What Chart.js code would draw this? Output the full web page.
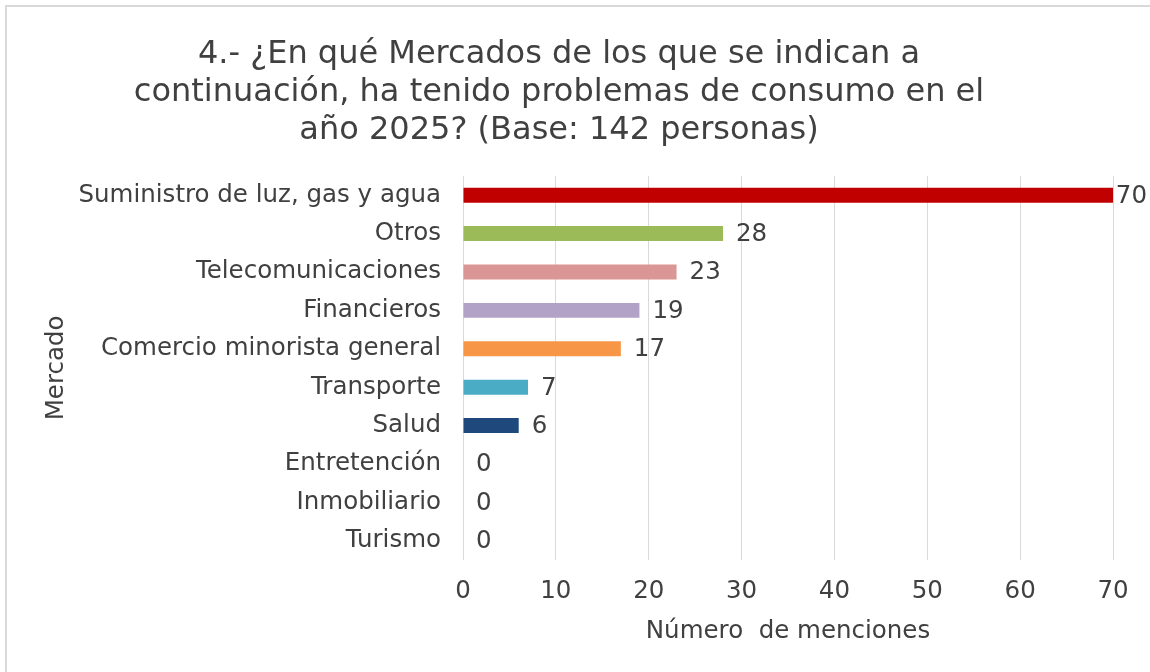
<!DOCTYPE html>
<html>
<head>
<meta charset="utf-8">
<script src="https://cdn.jsdelivr.net/npm/chart.js@4"></script>
<style>
html,body{margin:0;padding:0;background:#fff;}
#wrap{width:1150px;height:672px;position:relative;}
</style>
</head>
<body>
<div id="wrap"><canvas id="c" width="1150" height="672"></canvas></div>
<script>
const categories = ["Suministro de luz, gas y agua","Otros","Telecomunicaciones","Financieros","Comercio minorista general","Transporte","Salud","Entretención","Inmobiliario","Turismo"];
const values = [70, 28, 23, 19, 17, 7, 6, 0, 0, 0];
const barColors = ["#C00000","#9BBB59","#D99694","#B3A2C7","#F79646","#4BACC6","#1F497D","#7F7F7F","#7F7F7F","#7F7F7F"];
const xTicks = [0,10,20,30,40,50,60,70];
const titleLines = ["4.- ¿En qué Mercados de los que se indican a","continuación, ha tenido problemas de consumo en el","año 2025? (Base: 142 personas)"];
const xTitle = "Número  de menciones";
const yTitle = "Mercado";

const FONT = "'DejaVu Sans', Verdana, sans-serif";
const TXT = "#404040";
const FS = 24.5;

const framePlugin = {
  id: 'frame',
  beforeDraw(chart){
    const ctx = chart.ctx;
    ctx.save();
    ctx.fillStyle = '#fff';
    ctx.fillRect(0,0,chart.width,chart.height);
    ctx.strokeStyle = '#d9d9d9';
    ctx.lineWidth = 2;
    ctx.strokeRect(6,6,chart.width+20,chart.height+20);
    // chart title
    ctx.font = "32px " + FONT;
    ctx.fillStyle = TXT;
    ctx.textAlign = 'center';
    ctx.textBaseline = 'middle';
    const ys = [55, 93, 131];
    titleLines.forEach((t, i) => ctx.fillText(t, 559, ys[i]));
    ctx.restore();
  }
};

const labelPlugin = {
  id: 'vlabels',
  afterDatasetsDraw(chart){
    const ctx = chart.ctx;
    const meta = chart.getDatasetMeta(0);
    ctx.save();
    ctx.font = FS + "px " + FONT;
    ctx.fillStyle = TXT;
    ctx.textBaseline = 'middle';
    ctx.textAlign = 'left';
    meta.data.forEach((bar, i) => {
      const txt = String(values[i]);
      const w = ctx.measureText(txt).width;
      let x = bar.x + 13;
      if (x + w > chart.width - 3) x = chart.width - 3 - w;
      ctx.fillText(txt, x, bar.y + 1);
    });
    ctx.restore();
  }
};

new Chart(document.getElementById('c'), {
  type: 'bar',
  data: {
    labels: categories,
    datasets: [{
      data: values,
      backgroundColor: barColors,
      borderWidth: 0,
      barPercentage: 0.78,
      categoryPercentage: 0.5
    }]
  },
  options: {
    indexAxis: 'y',
    responsive: false,
    animation: false,
    devicePixelRatio: 1,
    layout: { padding: { left: 40, right: 37, top: 176, bottom: 25.3 } },
    plugins: {
      legend: { display: false },
      tooltip: { enabled: false },
      title: { display: false }
    },
    scales: {
      x: {
        min: 0, max: 70,
        afterBuildTicks: s => { s.ticks = xTicks.map(v => ({ value: v })); },
        grid: { color: '#d9d9d9', drawTicks: false, lineWidth: 1 },
        border: { display: false },
        ticks: { color: TXT, font: { family: FONT, size: FS }, padding: 17 },
        title: { display: true, text: xTitle, color: TXT, font: { family: FONT, size: FS, lineHeight: 1.2 }, padding: { top: -6, bottom: 0 } }
      },
      y: {
        afterFit: s => { s.width = 463 - 40; },
        grid: { display: false, drawTicks: false },
        border: { display: true, color: '#d9d9d9', width: 1 },
        ticks: { color: TXT, font: { family: FONT, size: FS }, padding: 22 },
        title: { display: true, text: yTitle, color: TXT, font: { family: FONT, size: FS, lineHeight: 1.2 }, padding: { top: 2, bottom: 0 } }
      }
    }
  },
  plugins: [framePlugin, labelPlugin]
});
</script>
</body>
</html>
